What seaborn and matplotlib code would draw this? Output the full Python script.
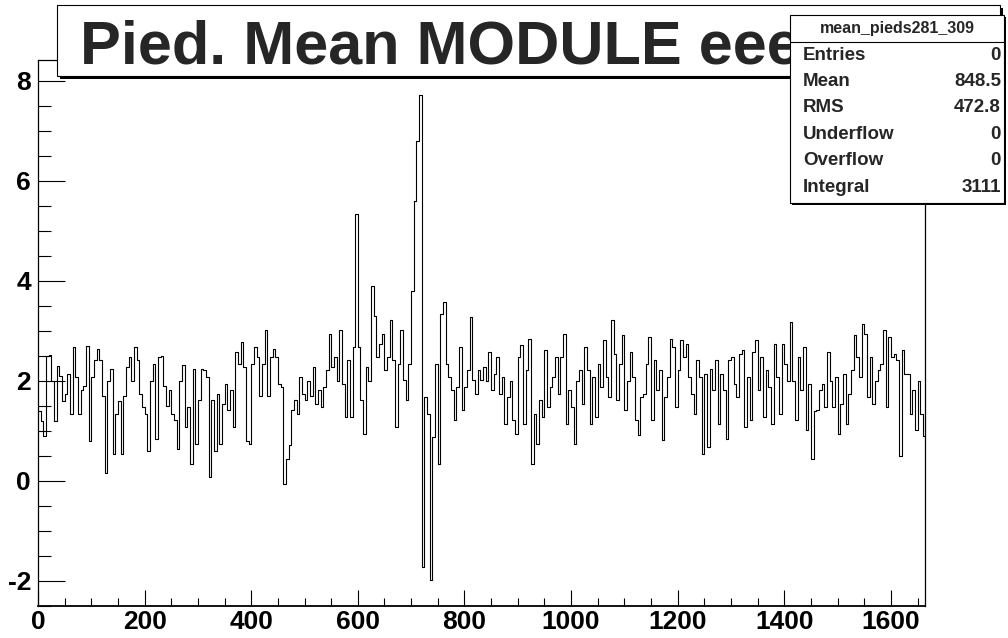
import numpy as np
import pandas as pd
import matplotlib
matplotlib.use("Agg")
import matplotlib.pyplot as plt
from matplotlib.patches import Rectangle
from matplotlib.lines import Line2D
from matplotlib.ticker import MultipleLocator
import seaborn as sns

# ---------------- data ----------------
title = "Pied. Mean MODULE eee"
stats_name = "mean_pieds281_309"
stats_labels = ["Entries", "Mean", "RMS", "Underflow", "Overflow", "Integral"]
stats_values = ["0", "848.5", "472.8", "0", "0", "3111"]
x_ticks = [0, 200, 400, 600, 800, 1000, 1200, 1400, 1600]
y_ticks = [-2, 0, 2, 4, 6, 8]
channels_per_step = 5

# pedestal mean per group of 5 channels, channels 0-419
pieds_a = [1.4, 1.2, 0.9, 2.5, 2.52, 2.0, 1.2, 2.3, 2.1, 1.6,
           1.75, 2.15, 1.35, 2.69, 2.09, 1.35, 1.82, 1.9, 2.7, 0.8,
           2.09, 2.42, 2.65, 2.42, 1.7, 0.17, 2.0, 2.25, 0.55, 1.35,
           1.6, 0.55, 1.7, 2.29, 2.49, 2.0, 2.69, 2.42, 1.75, 1.49,
           1.35, 0.6, 2.0, 2.35, 0.85, 2.49, 2.5, 1.9, 1.5, 1.82,
           1.35, 1.22, 0.65, 2.0, 2.32, 1.09, 1.49, 0.35, 2.25, 0.75,
           1.62, 2.25, 2.22, 2.09, 0.09, 1.62, 0.6, 1.75, 0.75, 1.55,
           1.95, 1.42, 1.82, 1.09, 2.59, 2.35, 2.79, 2.29, 0.8, 0.75,
           2.35, 2.69, 2.49, 1.7]
# channels 420-839
pieds_b = [2.35, 3.02, 1.7, 2.49, 2.65, 2.49, 1.95, 1.89, -0.05, 0.45,
           0.72, 1.42, 1.62, 1.35, 2.09, 1.75, 1.62, 2.0, 1.7, 2.29,
           1.55, 1.82, 1.49, 1.89, 2.22, 2.95, 2.29, 2.49, 2.0, 3.02,
           1.95, 1.29, 2.42, 1.29, 2.69, 5.35, 2.69, 1.62, 0.95, 2.29,
           2.0, 3.9, 3.3, 2.49, 2.75, 2.95, 2.22, 2.49, 3.22, 2.42,
           1.09, 2.35, 3.02, 2.02, 1.62, 2.35, 3.8, 5.6, 6.8, 7.72,
           -1.71, 1.69, 1.35, -1.98, 0.89, 2.35, 0.35, 3.35, 3.59, 2.35,
           2.09, 1.82, 1.22, 1.89, 2.69, 1.42, 1.89, 2.22, 3.29, 2.02,
           1.75, 2.22, 2.02, 2.29]
# channels 840-1264
pieds_c = [2.0, 2.59, 1.82, 2.15, 2.49, 1.75, 2.09, 1.15, 1.69, 2.0,
           1.22, 0.95, 2.49, 2.72, 1.15, 2.22, 2.85, 0.35, 1.35, 0.75,
           1.62, 1.29, 2.62, 1.49, 1.89, 2.09, 2.49, 1.75, 2.49, 2.95,
           1.15, 1.82, 1.49, 0.75, 2.0, 2.22, 1.55, 2.69, 2.22, 1.15,
           2.09, 1.29, 2.35, 1.89, 2.82, 2.09, 1.69, 3.22, 2.55, 1.62,
           2.35, 2.92, 1.42, 2.0, 2.59, 2.09, 1.22, 0.92, 1.69, 1.75,
           2.35, 2.89, 1.22, 2.42, 1.82, 2.22, 0.82, 1.69, 2.09, 2.85,
           2.69, 1.49, 2.22, 2.82, 2.49, 2.75, 2.09, 1.75, 1.35, 2.42,
           2.09, 0.55, 2.15, 0.69, 2.25]
# channels 1265-1664
pieds_d = [1.82, 2.42, 1.15, 2.15, 1.82, 0.85, 2.42, 2.49, 1.95, 1.69,
           2.55, 2.62, 1.09, 2.09, 1.22, 2.59, 2.82, 1.82, 2.49, 1.29,
           2.22, 1.89, 1.15, 2.75, 2.09, 1.35, 2.75, 2.35, 2.0, 3.19,
           2.0, 1.22, 2.49, 1.82, 2.69, 1.02, 1.95, 0.45, 1.4, 1.42,
           1.82, 1.95, 1.49, 2.59, 2.0, 1.49, 2.09, 0.95, 1.55, 2.15,
           1.15, 1.75, 2.22, 2.92, 2.49, 2.09, 3.15, 2.95, 1.69, 2.49,
           1.55, 2.0, 2.22, 2.35, 3.02, 1.49, 2.89, 2.49, 2.55, 2.42,
           0.5, 2.62, 2.15, 2.15, 1.35, 1.82, 1.02, 2.0, 1.35, 0.9]

# ---------------- figure ----------------
sns.set_style("white")
plt.rcParams["font.family"] = ["Liberation Sans", "DejaVu Sans"]
plt.rcParams["font.weight"] = "bold"

values = pieds_a + pieds_b + pieds_c + pieds_d
channel = np.arange(len(values) + 1) * channels_per_step
df = pd.DataFrame({"channel": channel, "value": values + [values[-1]]})

W, H = 1008, 638
fig = plt.figure(figsize=(W / 100, H / 100), dpi=100)
fig.patch.set_facecolor("white")


def fx(px):
    return px / W


def fy(py):
    return 1 - py / H


ax = fig.add_axes([fx(38), fy(606), (925 - 38) / W, (606 - 60) / H])
ax.set_facecolor("white")
sns.lineplot(data=df, x="channel", y="value", drawstyle="steps-post",
             color="black", linewidth=0.8, estimator=None, sort=False, ax=ax)
ax.set_xlim(0, 1664)
ax.set_ylim(-2.5, 8.42)
ax.set_xlabel("")
ax.set_ylabel("")
ax.set_xticks(x_ticks)
ax.set_xticklabels([str(t) for t in x_ticks])
ax.set_yticks(y_ticks)
ax.set_yticklabels([str(t) for t in y_ticks])
ax.xaxis.set_minor_locator(MultipleLocator(50))
ax.yaxis.set_minor_locator(MultipleLocator(0.5))
ax.tick_params(which="both", bottom=True, left=True, top=False, right=False)
ax.tick_params(axis="x", which="major", direction="in", length=11.5, width=0.8,
               labelsize=19, pad=3, colors="black")
ax.tick_params(axis="x", which="minor", direction="in", length=5.8, width=0.8,
               colors="black")
ax.tick_params(axis="y", which="major", direction="in", length=19.4, width=0.8,
               labelsize=19, pad=5, colors="black")
ax.tick_params(axis="y", which="minor", direction="in", length=9.7, width=0.8,
               colors="black")
for s in ax.spines.values():
    s.set_color("black")
    s.set_linewidth(0.9)
ax.spines["bottom"].set_linewidth(1.3)

# ---------------- title box ----------------
tl, tt, tr, tb = 57, 5, 1000, 76
fig.add_artist(Rectangle((fx(tl + 3), fy(tb + 3)), (tr - tl) / W, (tb - tt) / H,
                         transform=fig.transFigure, facecolor="black",
                         edgecolor="none", zorder=5))
fig.add_artist(Rectangle((fx(tl), fy(tb)), (tr - tl) / W, (tb - tt) / H,
                         transform=fig.transFigure, facecolor="white",
                         edgecolor="black", linewidth=0.8, zorder=5.5))
fig.text(fx(80), fy(64), title, fontsize=44, fontweight="bold",
         ha="left", va="baseline", zorder=6)

# ---------------- stats box ----------------
sl, st, sr, sb = 790, 15, 1004, 203
fig.add_artist(Rectangle((fx(sl + 2), fy(sb + 2)), (sr - sl) / W, (sb - st) / H,
                         transform=fig.transFigure, facecolor="black",
                         edgecolor="none", zorder=7))
fig.add_artist(Rectangle((fx(sl), fy(sb)), (sr - sl) / W, (sb - st) / H,
                         transform=fig.transFigure, facecolor="white",
                         edgecolor="black", linewidth=0.8, zorder=7.5))
fig.add_artist(Line2D([fx(sl), fx(sr)], [fy(42), fy(42)], transform=fig.transFigure,
                      color="black", linewidth=0.8, zorder=8))
fig.text(fx((sl + sr) / 2), fy(29), stats_name, fontsize=11.5, fontweight="semibold",
         ha="center", va="center", zorder=8)
row_y = [55, 81.5, 108, 134.5, 161, 187.5]
for lab, val, yy in zip(stats_labels, stats_values, row_y):
    fig.text(fx(803), fy(yy), lab, fontsize=13.5, fontweight="bold",
             ha="left", va="center", zorder=8)
    fig.text(fx(1001), fy(yy), val, fontsize=13.5, fontweight="bold",
             ha="right", va="center", zorder=8)

fig.savefig("out.png", dpi=100, facecolor="white")
